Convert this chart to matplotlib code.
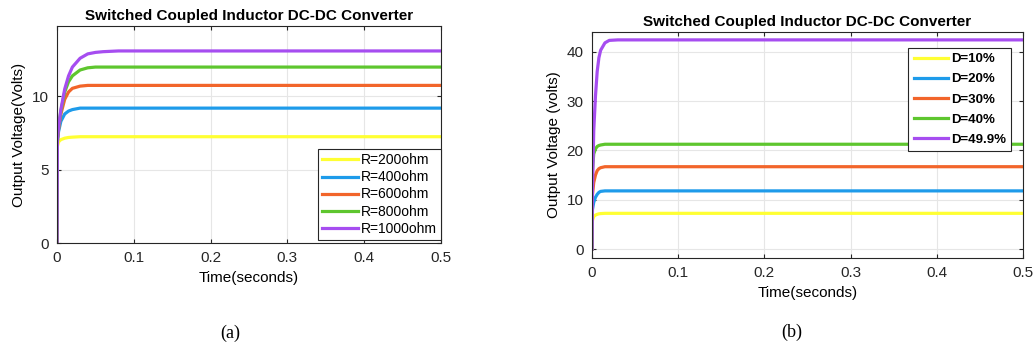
import matplotlib.pyplot as plt

plt.rcParams['font.family'] = ['Liberation Sans', 'DejaVu Sans']

# time points (seconds)
t_a = [0, 0.0005, 0.002, 0.005, 0.01, 0.015, 0.02, 0.03, 0.04, 0.05, 0.06, 0.08, 0.1, 0.5]
r200 = [0, 6.6, 6.9, 7.05, 7.15, 7.2, 7.22, 7.25, 7.25, 7.25, 7.25, 7.25, 7.25, 7.25]
r400 = [0, 6.9, 7.6, 8.3, 8.8, 9.0, 9.1, 9.2, 9.2, 9.2, 9.2, 9.2, 9.2, 9.2]
r600 = [0, 7.0, 7.8, 8.8, 9.8, 10.3, 10.55, 10.7, 10.75, 10.75, 10.75, 10.75, 10.75, 10.75]
r800 = [0, 7.1, 7.9, 9.0, 10.3, 11.0, 11.4, 11.8, 11.95, 12.0, 12.0, 12.0, 12.0, 12.0]
r1000 = [0, 7.1, 7.9, 9.1, 10.5, 11.4, 12.0, 12.6, 12.9, 13.0, 13.05, 13.1, 13.1, 13.1]
labels_a = ['R=200ohm', 'R=400ohm', 'R=600ohm', 'R=800ohm', 'R=1000ohm']

t_b = [0, 0.0005, 0.002, 0.004, 0.006, 0.008, 0.01, 0.015, 0.02, 0.03, 0.05, 0.1, 0.5]
d10 = [0, 5.8, 6.6, 6.9, 7.05, 7.15, 7.2, 7.25, 7.25, 7.25, 7.25, 7.25, 7.25]
d20 = [0, 8.0, 9.5, 10.5, 11.1, 11.5, 11.7, 11.8, 11.8, 11.8, 11.8, 11.8, 11.8]
d30 = [0, 11.0, 13.5, 15.0, 15.9, 16.3, 16.5, 16.7, 16.7, 16.7, 16.7, 16.7, 16.7]
d40 = [0, 16.0, 19.3, 20.3, 20.8, 21.0, 21.1, 21.25, 21.25, 21.25, 21.25, 21.25, 21.25]
d499 = [0, 12.0, 24.0, 31.0, 36.0, 38.8, 40.3, 41.8, 42.3, 42.4, 42.4, 42.4, 42.4]
labels_b = ['D=10%', 'D=20%', 'D=30%', 'D=40%', 'D=49.9%']

colors = ['#FFFF33', '#1E9BEA', '#F2652A', '#5EC62E', '#A64DF0']

fig = plt.figure(figsize=(10.35, 3.47), dpi=100)
ax1 = fig.add_axes([0.0551, 0.2997, 0.371, 0.6253])
ax2 = fig.add_axes([0.572, 0.2565, 0.4164, 0.6513])

def style(ax):
    ax.grid(True, color='#e6e6e6', linewidth=0.8)
    ax.set_axisbelow(True)
    ax.tick_params(direction='in', top=True, right=True, labelsize=11,
                   colors='#262626', length=3, pad=6)
    for s in ax.spines.values():
        s.set_color('#262626')
        s.set_linewidth(0.8)
    ax.set_title('Switched Coupled Inductor DC-DC Converter',
                 fontsize=11, fontweight='bold', pad=4)
    ax.set_xlabel('Time(seconds)', fontsize=11, labelpad=4)

for ys, lab, c in zip([r200, r400, r600, r800, r1000], labels_a, colors):
    ax1.plot(t_a, ys, color=c, linewidth=2.3, label=lab)
ax1.set_xlim(0, 0.5)
ax1.set_ylim(0, 14.8)
ax1.set_yticks([0, 5, 10])
ax1.set_xticks([0, 0.1, 0.2, 0.3, 0.4, 0.5])
ax1.set_xticklabels(['0', '0.1', '0.2', '0.3', '0.4', '0.5'])
style(ax1)
ax1.set_ylabel('Output Voltage(Volts)', fontsize=11, labelpad=4)
leg1 = ax1.legend(loc='lower right', bbox_to_anchor=(1.0, 0.015), fontsize=10,
                  fancybox=False, edgecolor='#262626', framealpha=1,
                  handlelength=2.6, handletextpad=0.2, labelspacing=0.22,
                  borderpad=0.3, borderaxespad=0)
leg1.get_frame().set_linewidth(0.8)

for ys, lab, c in zip([d10, d20, d30, d40, d499], labels_b, colors):
    ax2.plot(t_b, ys, color=c, linewidth=2.3, label=lab)
ax2.set_xlim(0, 0.5)
ax2.set_ylim(-1.8, 44)
ax2.set_yticks([0, 10, 20, 30, 40])
ax2.set_xticks([0, 0.1, 0.2, 0.3, 0.4, 0.5])
ax2.set_xticklabels(['0', '0.1', '0.2', '0.3', '0.4', '0.5'])
style(ax2)
ax2.set_ylabel('Output Voltage (volts)', fontsize=11, labelpad=4)
leg2 = ax2.legend(loc='upper right', bbox_to_anchor=(0.972, 0.93), prop={'size': 9.5, 'weight': 'bold'},
                  fancybox=False, edgecolor='#262626', framealpha=1,
                  handlelength=2.6, handletextpad=0.2, labelspacing=0.6,
                  borderpad=0.4, borderaxespad=0)
leg2.get_frame().set_linewidth(0.8)

fig.text(0.2222, 0.025, '(a)', family='Liberation Serif', fontsize=13, ha='center')
fig.text(0.7652, 0.03, '(b)', family='Liberation Serif', fontsize=13, ha='center')

fig.savefig('out.png', dpi=100)
